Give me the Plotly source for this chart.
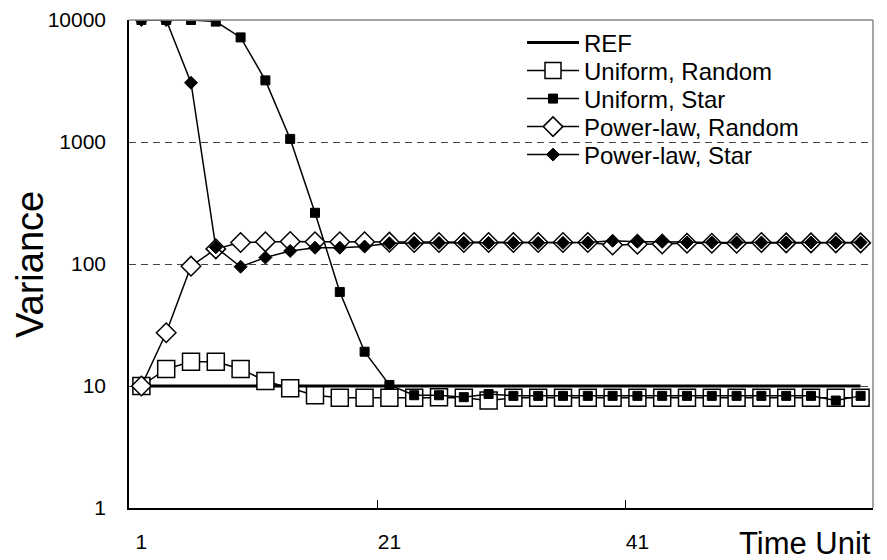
import plotly.graph_objects as go

# Time steps (every second unit)
time_units = list(range(1, 60, 2))

ref = [10] * 30

uniform_random = [10, 13.8, 15.8, 15.8, 13.8, 11.0, 9.6, 8.4, 8.0, 8.0,
                  8.0, 8.0, 8.1, 8.0, 7.6, 8.0, 8.0, 8.0, 8.0, 8.0,
                  8.0, 8.0, 8.0, 8.0, 8.0, 8.0, 8.0, 8.0, 8.0, 8.0]

uniform_star = [10000, 10000, 10000, 9700, 7200, 3200, 1060, 263, 59, 19.1,
                10.2, 8.4, 8.4, 8.1, 8.6, 8.3, 8.3, 8.3, 8.3, 8.3,
                8.3, 8.3, 8.3, 8.3, 8.3, 8.3, 8.3, 8.3, 7.6, 8.3]

powerlaw_random = [10, 27.3, 96, 133, 150, 152, 153, 152, 152, 152,
                   151, 150, 150, 150, 150, 150, 150, 150, 150, 143,
                   145, 146, 148, 148, 148, 150, 149, 149, 149, 149]

powerlaw_star = [10000, 10000, 3060, 137, 95, 113, 128, 136, 136, 139,
                 148, 149, 149, 149, 149, 149, 149, 149, 150, 155,
                 152, 152, 150, 150, 150, 150, 150, 150, 150, 150]

y_ticks = [1, 10, 100, 1000, 10000]
x_label_vals = [1, 21, 41]
x_tick_marks = [20, 40]

FONT = "Liberation Sans, Arial, sans-serif"

# (name, values, line width, marker) for each series, one legend row each
series = [
    ("REF", ref, 3, None),
    ("Uniform, Random", uniform_random, 1.5,
     dict(symbol="square", size=17, color="white", line=dict(color="black", width=1.5))),
    ("Uniform, Star", uniform_star, 1.5,
     dict(symbol="square", size=9, color="black", line=dict(color="black", width=1))),
    ("Power-law, Random", powerlaw_random, 1.5,
     dict(symbol="diamond", size=15, color="white", line=dict(color="black", width=1.5))),
    ("Power-law, Star", powerlaw_star, 1.5,
     dict(symbol="diamond", size=10, color="black", line=dict(color="black", width=1))),
]

# plot area in pixels: x 129..873, y 20..508
PLOT_L, PLOT_T, PLOT_B, PLOT_W = 129, 20, 508, 744
PLOT_H = PLOT_B - PLOT_T
legend_rows_px = [43, 71, 99, 127, 155]

fig = go.Figure()
legends = {}
for i, (name, vals, lw, marker) in enumerate(series):
    key = "legend" if i == 0 else f"legend{i + 1}"
    kw = dict(mode="lines") if marker is None else dict(mode="lines+markers", marker=marker)
    fig.add_trace(go.Scatter(
        x=time_units, y=vals, name=name,
        line=dict(color="black", width=lw),
        legend=key, **kw,
    ))
    legends[key] = dict(
        x=(522 - PLOT_L) / PLOT_W, y=(PLOT_B - legend_rows_px[i]) / PLOT_H,
        xanchor="left", yanchor="middle",
        bgcolor="rgba(0,0,0,0)", borderwidth=0,
        font=dict(family=FONT, size=24, color="black"),
        itemwidth=52,
    )

fig.update_layout(
    width=887, height=560,
    margin=dict(l=PLOT_L, r=887 - PLOT_L - PLOT_W, t=PLOT_T, b=560 - PLOT_B),
    paper_bgcolor="white", plot_bgcolor="white",
    font=dict(family=FONT, color="black"),
    showlegend=True,
    **legends,
    xaxis=dict(
        range=[0, 60], showgrid=False, zeroline=False, automargin=False,
        showline=True, linecolor="black", linewidth=1.5,
        tickmode="array", tickvals=x_label_vals,
        ticktext=[str(v) for v in x_label_vals],
        ticks="", ticklabelstandoff=14,
        tickfont=dict(family=FONT, size=21),
        minor=dict(tickmode="array", tickvals=x_tick_marks,
                   ticks="inside", ticklen=8, tickcolor="black",
                   tickwidth=1, showgrid=False),
    ),
    yaxis=dict(
        type="log", range=[0, 4], automargin=False,
        tickmode="array", tickvals=y_ticks,
        ticktext=[str(v) for v in y_ticks],
        showline=True, linecolor="black", linewidth=1.5,
        showgrid=True, gridcolor="#444", gridwidth=1, griddash="7px,5px",
        ticks="", ticklabelstandoff=17,
        tickfont=dict(family=FONT, size=21),
    ),
    shapes=[
        # white panel behind the legend rows
        dict(type="rect", xref="paper", yref="paper", layer="between",
             x0=(495 - PLOT_L) / PLOT_W, x1=1,
             y0=(PLOT_B - 186) / PLOT_H, y1=(PLOT_B - 24) / PLOT_H,
             fillcolor="white", line=dict(width=0)),
        # grey top and right frame
        dict(type="line", xref="paper", yref="paper", x0=0, x1=1, y0=1, y1=1,
             line=dict(color="#888", width=1.5)),
        dict(type="line", xref="paper", yref="paper", x0=1, x1=1, y0=0, y1=1,
             line=dict(color="#888", width=1.5)),
    ],
    annotations=[
        dict(text="Variance", xref="paper", yref="paper",
             x=(30 - PLOT_L) / PLOT_W, y=(PLOT_B - 265) / PLOT_H,
             xanchor="center", yanchor="middle", textangle=-90, showarrow=False,
             font=dict(family=FONT, size=38)),
        dict(text="Time Unit", xref="paper", yref="paper",
             x=1.0, y=(PLOT_B - 543) / PLOT_H,
             xanchor="right", yanchor="middle", showarrow=False,
             font=dict(family=FONT, size=31)),
    ],
)

fig.write_html("out.html")
